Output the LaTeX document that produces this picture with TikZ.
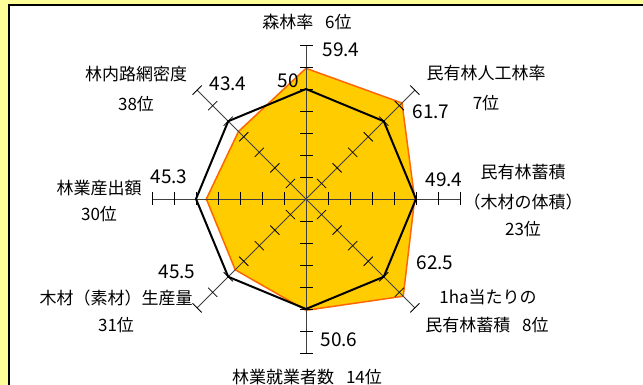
\documentclass[tikz,border=0pt]{standalone}
\usepackage{fontspec}
\newfontfamily\jpfont{Noto Sans CJK JP}
\definecolor{bgyellow}{HTML}{FFFF99}
\definecolor{areafill}{HTML}{FFCC00}
\definecolor{areaedge}{HTML}{FF6600}
\begin{document}
\begin{tikzpicture}[x=1pt,y=1pt]
    \tikzstyle{axis}=[black!75,line width=0.8pt]
    \tikzstyle{prefarea}=[fill=areafill,draw=areaedge,line width=1.5pt,line join=miter]
    \tikzstyle{avgline}=[black,line width=2pt,line join=miter]
    \tikzstyle{item}=[font=\jpfont\fontsize{17}{17}\selectfont,inner sep=0pt]
    \tikzstyle{score}=[font=\jpfont\fontsize{19}{19}\selectfont,inner sep=0pt]
    \useasboundingbox (0,0) rectangle (643,385);
    \fill[bgyellow] (0,0) rectangle (643,385);
    \draw[line width=1.2pt,fill=white] (9,380) rectangle (660,-20);
    \coordinate (c) at (306,186);
    \begin{scope}[shift={(c)}]
      % prefecture values, 1 point = 2.2pt
      \draw[prefarea] (90:{59.4*2.2})
        \foreach \a/\v in {45/61.7,0/49.4,-45/62.5,-90/50.6,-135/45.5,180/45.3,135/43.4} { -- (\a:{\v*2.2}) } -- cycle;
      % axes with ticks every 10 points
      \foreach \a in {0,45,...,315} {
        \begin{scope}[rotate=\a]
          \draw[axis] (0,0) -- (154,0);
          \foreach \t in {1,...,7}
            \draw[axis,black] (\t*22,-6.5) -- (\t*22,6.5);
        \end{scope}
      }
      % national average = 50
      \draw[avgline] (0:110) \foreach \a in {45,90,...,315} { -- (\a:110) } -- cycle;
    \end{scope}
    % items and ranks
    \node[item] (forest) at (307,363) {森林率\hspace{0.7em}6位};
    \node[score] (forestv) at (341,335) {59.4};
    \node[score] (avg) at (288,304) {50};
    \node[item] (plant) at (486,312) {民有林人工林率};
    \node[item] (plantr) at (486,282) {7位};
    \node[score] (plantv) at (431,273) {61.7};
    \node[item] (stock) at (523,213) {民有林蓄積};
    \node[item] (stockn) at (523,183) {（木材の体積）};
    \node[item] (stockr) at (523,156) {23位};
    \node[score] (stockv) at (444,205) {49.4};
    \node[item] (perha) at (488,88) {1ha当たりの};
    \node[item] (perhar) at (487,60) {民有林蓄積\hspace{0.7em}8位};
    \node[score] (perhav) at (435,122) {62.5};
    \node[item] (workers) at (307,7.5) {林業就業者数\hspace{0.7em}14位};
    \node[score] (workersv) at (339,45) {50.6};
    \node[item] (timber) at (116,87) {木材（素材）生産量};
    \node[item] (timberr) at (116,60) {31位};
    \node[score] (timberv) at (177,113) {45.5};
    \node[item] (output) at (99,197) {林業産出額};
    \node[item] (outputr) at (99,171) {30位};
    \node[score] (outputv) at (169,208) {45.3};
    \node[item] (road) at (136,311) {林内路網密度};
    \node[item] (roadr) at (136,281) {38位};
    \node[score] (roadv) at (228,301) {43.4};
\end{tikzpicture}
\end{document}
